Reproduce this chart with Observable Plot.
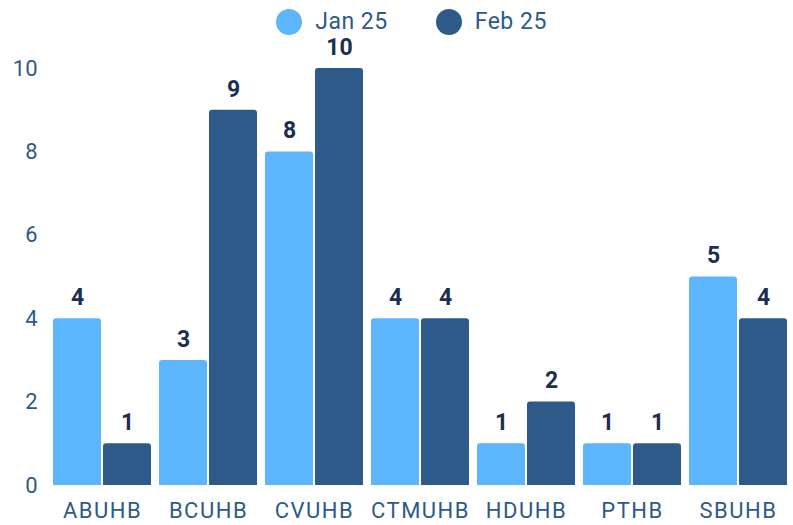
<!DOCTYPE html>
<html><head><meta charset="utf-8">
<script src="https://cdn.jsdelivr.net/npm/d3@7"></script>
<script src="https://cdn.jsdelivr.net/npm/@observablehq/plot@0.6"></script>
<style>
body{margin:0;background:#fff;font-family:Roboto,sans-serif;}
#legend{display:flex;justify-content:center;align-items:center;height:40px;padding-left:30px;padding-top:3px;box-sizing:border-box;width:793px;}
.item{display:flex;align-items:center;margin:0 24px;color:#2E5A8A;font-size:23px;letter-spacing:0.5px;}
.dot{width:26px;height:26px;border-radius:50%;margin-right:13px;display:inline-block;}
g[aria-label="fx-axis tick label"] text{letter-spacing:1.5px;}
</style></head><body>
<div id="legend"></div><div id="chart"></div>
<script>
const categories = ["ABUHB","BCUHB","CVUHB","CTMUHB","HDUHB","PTHB","SBUHB"];
const series = ["Jan 25","Feb 25"];
const jan = [4,3,8,4,1,1,5];
const feb = [1,9,10,4,2,1,4];
const colors = ["#5DB5FB","#2E5A8A"];
const yTicks = [0,2,4,6,8,10];

const data = categories.flatMap((c,i)=>[
  {cat:c, series:series[0], value:jan[i]},
  {cat:c, series:series[1], value:feb[i]}
]);

const legend = document.getElementById("legend");
series.forEach((s,i)=>{
  const it = document.createElement("div"); it.className="item";
  const d = document.createElement("span"); d.className="dot"; d.style.background=colors[i];
  const t = document.createElement("span"); t.textContent=s;
  it.appendChild(d); it.appendChild(t); legend.appendChild(it);
});

const chart = Plot.plot({
  width:793, height:485, marginTop:28, marginBottom:40, marginLeft:49, marginRight:2,
  style:{fontFamily:"Roboto, sans-serif", fontSize:"22px", color:"#2E5A8A", background:"white", overflow:"visible"},
  fx:{domain:categories, paddingInner:0.08, paddingOuter:0.04, label:null, axis:"bottom", tickSize:0, tickPadding:17},
  x:{domain:series, paddingInner:0.05, paddingOuter:0, axis:null},
  y:{domain:[0,10], ticks:yTicks, label:null, tickSize:0, tickPadding:16},
  color:{domain:series, range:colors},
  marks:[
    Plot.barY(data,{fx:"cat", x:"series", y:"value", fill:"series", rx:3, insetBottom:-4, clip:true}),
    Plot.text(data,{fx:"cat", x:"series", y:"value", text:d=>String(d.value), dy:-21, fill:"#1B2F4F", fontWeight:"bold", fontSize:23})
  ]
});
document.getElementById("chart").appendChild(chart);
</script>
</body></html>
